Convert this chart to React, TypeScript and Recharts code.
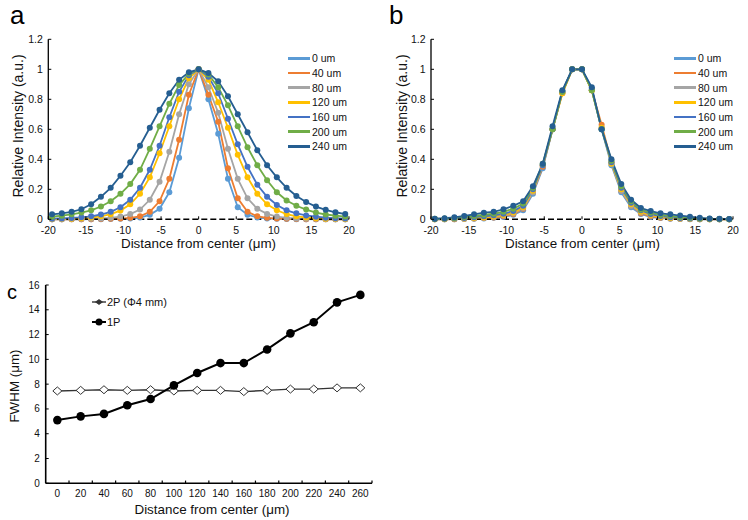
import React from 'react';
import { LineChart, Line, XAxis, YAxis, ReferenceLine } from 'recharts';

const FONT = '"Liberation Sans", Arial, Helvetica, sans-serif';
const TXT = '#111';

// ---------- Panel a / b shared ----------
const xPositions = [-19.5, -18.2, -16.9, -15.6, -14.3, -13, -11.7, -10.4, -9.1, -7.8, -6.5, -5.2, -3.9, -2.6, -1.3, 0,
  1.3, 2.6, 3.9, 5.2, 6.5, 7.8, 9.1, 10.4, 11.7, 13, 14.3, 15.6, 16.9, 18.2, 19.5];
const xTicksAB = [-20, -15, -10, -5, 0, 5, 10, 15, 20];
const yTicksAB = [0, 0.2, 0.4, 0.6, 0.8, 1, 1.2];
const seriesNames = ['0 um', '40 um', '80 um', '120 um', '160 um', '200 um', '240 um'];
const seriesColors = ['#5B9BD5', '#ED7D31', '#A5A5A5', '#FFC000', '#4472C4', '#70AD47', '#255E91'];

// ---------- Panel a values ----------
const a0 = [0, 0, 0, 0, 0.001, 0.001, 0.002, 0.003, 0.005, 0.012, 0.03, 0.07, 0.18, 0.41, 0.74, 1,
  0.8, 0.57, 0.27, 0.08, 0.03, 0.012, 0.006, 0.003, 0.002, 0.001, 0.001, 0, 0, 0, 0];
const a40 = [0, 0, 0, 0.001, 0.001, 0.002, 0.003, 0.005, 0.01, 0.02, 0.05, 0.12, 0.27, 0.53, 0.83, 1,
  0.83, 0.65, 0.34, 0.14, 0.05, 0.02, 0.01, 0.005, 0.003, 0.002, 0.001, 0.001, 0, 0, 0];
const a80 = [0.001, 0.001, 0.002, 0.003, 0.004, 0.006, 0.01, 0.018, 0.035, 0.065, 0.13, 0.25, 0.45, 0.7, 0.9, 1,
  0.88, 0.71, 0.47, 0.27, 0.14, 0.07, 0.036, 0.018, 0.01, 0.006, 0.004, 0.003, 0.002, 0.001, 0.001];
const a120 = [0.002, 0.003, 0.004, 0.007, 0.012, 0.02, 0.034, 0.058, 0.1, 0.17, 0.28, 0.44, 0.62, 0.8, 0.94, 1,
  0.93, 0.78, 0.61, 0.43, 0.28, 0.17, 0.1, 0.06, 0.035, 0.02, 0.012, 0.007, 0.004, 0.003, 0.002];
const a160 = [0.004, 0.006, 0.009, 0.013, 0.02, 0.032, 0.05, 0.08, 0.13, 0.21, 0.33, 0.49, 0.68, 0.85, 0.96, 1,
  0.95, 0.84, 0.67, 0.5, 0.35, 0.23, 0.15, 0.095, 0.06, 0.04, 0.026, 0.017, 0.011, 0.007, 0.005];
const a200 = [0.017, 0.024, 0.033, 0.045, 0.06, 0.085, 0.12, 0.17, 0.235, 0.33, 0.47, 0.62, 0.77, 0.895, 0.97, 1,
  0.965, 0.88, 0.76, 0.62, 0.48, 0.36, 0.26, 0.18, 0.125, 0.09, 0.065, 0.045, 0.032, 0.024, 0.018];
const a240 = [0.033, 0.04, 0.05, 0.067, 0.1, 0.15, 0.21, 0.29, 0.38, 0.49, 0.61, 0.73, 0.84, 0.93, 0.98, 1,
  0.975, 0.92, 0.82, 0.7, 0.58, 0.46, 0.36, 0.28, 0.21, 0.155, 0.115, 0.085, 0.063, 0.047, 0.035];

// ---------- Panel b values ----------
const b0 = [0, 0, 0.001, 0.002, 0.004, 0.006, 0.01, 0.015, 0.03, 0.06, 0.17, 0.34, 0.6, 0.85, 1, 1,
  0.86, 0.6, 0.36, 0.18, 0.08, 0.035, 0.015, 0.008, 0.004, 0.002, 0.001, 0, 0, 0, 0];
const b40 = [0, 0, 0.001, 0.003, 0.005, 0.008, 0.012, 0.02, 0.035, 0.07, 0.18, 0.35, 0.6, 0.84, 1, 1,
  0.86, 0.63, 0.38, 0.19, 0.09, 0.04, 0.02, 0.01, 0.005, 0.003, 0.002, 0.001, 0, 0, 0];
const b80 = [0.001, 0.001, 0.002, 0.004, 0.007, 0.01, 0.015, 0.025, 0.04, 0.075, 0.18, 0.36, 0.6, 0.85, 1, 1,
  0.86, 0.61, 0.37, 0.19, 0.09, 0.045, 0.025, 0.013, 0.007, 0.004, 0.002, 0.001, 0.001, 0, 0];
const b120 = [0.001, 0.002, 0.003, 0.005, 0.008, 0.012, 0.018, 0.028, 0.045, 0.08, 0.19, 0.36, 0.6, 0.84, 1, 1,
  0.86, 0.61, 0.37, 0.2, 0.1, 0.05, 0.028, 0.015, 0.009, 0.005, 0.003, 0.002, 0.001, 0.001, 0];
const b160 = [0.002, 0.003, 0.005, 0.009, 0.014, 0.02, 0.027, 0.037, 0.055, 0.09, 0.2, 0.36, 0.6, 0.85, 1, 1,
  0.87, 0.6, 0.38, 0.21, 0.11, 0.06, 0.035, 0.022, 0.014, 0.009, 0.006, 0.004, 0.002, 0.001, 0.001];
const b200 = [0.003, 0.005, 0.009, 0.015, 0.022, 0.03, 0.037, 0.05, 0.07, 0.105, 0.21, 0.37, 0.6, 0.85, 1, 1,
  0.86, 0.6, 0.39, 0.22, 0.12, 0.065, 0.045, 0.03, 0.022, 0.016, 0.01, 0.006, 0.003, 0.002, 0.001];
const b240 = [0.004, 0.007, 0.013, 0.022, 0.033, 0.044, 0.05, 0.067, 0.09, 0.12, 0.22, 0.37, 0.62, 0.86, 1, 1,
  0.88, 0.6, 0.4, 0.235, 0.13, 0.075, 0.055, 0.04, 0.033, 0.025, 0.017, 0.01, 0.005, 0.003, 0.002];

// ---------- Panel c values ----------
const cDistance = [0, 20, 40, 60, 80, 100, 120, 140, 160, 180, 200, 220, 240, 260];
const c2P = [7.45, 7.5, 7.55, 7.5, 7.55, 7.45, 7.5, 7.5, 7.4, 7.5, 7.6, 7.6, 7.7, 7.7];
const c1P = [5.1, 5.4, 5.6, 6.3, 6.8, 7.9, 8.9, 9.7, 9.7, 10.8, 12.1, 13.0, 14.6, 15.2];
const cXTicks = [0, 20, 40, 60, 80, 100, 120, 140, 160, 180, 200, 220, 240, 260];
const cYTicks = [0, 2, 4, 6, 8, 10, 12, 14, 16];
const cMinorTicks = [10, 30, 50, 70, 90, 110, 130, 150, 170, 190, 210, 230, 250, 270];
const cNames = ['2P (Φ4 mm)', '1P'];

const keys = ['s0', 's40', 's80', 's120', 's160', 's200', 's240'];
const buildRows = (sets: number[][]) =>
  xPositions.map((x, i) => {
    const r: any = { x };
    sets.forEach((s, j) => { r[keys[j]] = s[i]; });
    return r;
  });
const dataA = buildRows([a0, a40, a80, a120, a160, a200, a240]);
const dataB = buildRows([b0, b40, b80, b120, b160, b200, b240]);
const dataC = cDistance.map((d, i) => ({ d, p2: c2P[i], p1: c1P[i] }));

const fmtY = (v: number) => String(Number(v.toFixed(1)));

const InXTick = (props: any) => {
  const { x, y, payload, tm, fs, tl } = props;
  const ay = y - tm;
  return (
    <g>
      {tl ? <line x1={x} x2={x} y1={ay} y2={ay - tl} stroke="#000" strokeWidth={1} /> : null}
      <text x={x} y={y} dy="0.71em" textAnchor="middle" fontSize={fs} fontFamily={FONT} fill={TXT}>
        {payload.value}
      </text>
    </g>
  );
};

const InYTick = (props: any) => {
  const { x, y, payload, tm, fs, tl, dec } = props;
  const ax = x + tm;
  return (
    <g>
      {tl ? <line x1={ax} x2={ax + tl} y1={y} y2={y} stroke="#000" strokeWidth={1} /> : null}
      <text x={x} y={y} dy="0.355em" textAnchor="end" fontSize={fs} fontFamily={FONT} fill={TXT}>
        {dec ? fmtY(payload.value) : payload.value}
      </text>
    </g>
  );
};

const Diamond = (props: any) => {
  const { cx, cy, index } = props;
  if (cx == null || cy == null) return <g key={index} />;
  return (
    <path key={index} d={`M${cx - 4.5},${cy} L${cx},${cy - 4} L${cx + 4.5},${cy} L${cx},${cy + 4} Z`}
      fill="#fff" stroke="#333" strokeWidth={1} />
  );
};

const ProfileChart = ({ data, width, height, leftW, rightM }: any) => (
  <LineChart width={width} height={height} data={data}
    margin={{ top: 39.3, right: rightM, bottom: 10.7, left: 0 }}>
    <XAxis type="number" dataKey="x" domain={[-20, 20]} ticks={xTicksAB} height={30}
      axisLine={{ stroke: '#000', strokeWidth: 1.6, strokeDasharray: '6 3' }}
      tickLine={false} tickSize={0} tickMargin={7.5}
      tick={<InXTick tm={7.5} fs={10.5} tl={3} />} interval={0} />
    <YAxis type="number" domain={[0, 1.2]} ticks={yTicksAB} width={leftW}
      axisLine={{ stroke: '#000', strokeWidth: 1.3 }} tickLine={false} tickSize={0} tickMargin={5.5}
      tick={<InYTick tm={5.5} fs={10.5} tl={3} dec />} interval={0} />
    {keys.map((k, i) => (
      <Line key={k} type="linear" dataKey={k} stroke={seriesColors[i]} strokeWidth={1.8}
        dot={{ r: 3, fill: seriesColors[i], strokeWidth: 0 }} isAnimationActive={false} />
    ))}
  </LineChart>
);

const legendRowsY = [58.3, 72.9, 87.6, 102.3, 117, 131.7, 146.4];

const ProfileLegend = ({ left }: { left: number }) => (
  <div style={{ position: 'absolute', left, top: 0 }}>
    {seriesNames.map((n, i) => (
      <div key={n} style={{ position: 'absolute', left: 0, top: legendRowsY[i] - 7, height: 14,
        display: 'flex', alignItems: 'center', whiteSpace: 'nowrap' }}>
        <div style={{ width: 22, height: 2.5, background: seriesColors[i] }} />
        <span style={{ marginLeft: 2, fontSize: 10.5, fontFamily: FONT, color: TXT }}>{n}</span>
      </div>
    ))}
  </div>
);

const Title = ({ x, y, text, size, rotate }: any) => (
  <div style={{ position: 'absolute', left: x, top: y, transform: `translate(-50%, -50%)${rotate ? ' rotate(-90deg)' : ''}`,
    fontSize: size, fontFamily: FONT, color: TXT, whiteSpace: 'nowrap', lineHeight: 1 }}>{text}</div>
);

const PanelLetter = ({ x, y, text, size }: any) => (
  <div style={{ position: 'absolute', left: x, top: y, fontSize: size, fontFamily: FONT, color: '#000', lineHeight: `${size}px` }}>{text}</div>
);

export default function App() {
  return (
    <div style={{ position: 'absolute', left: 0, top: 0, width: 748, height: 520, background: '#fff', overflow: 'hidden' }}>
      {/* Panel a */}
      <div style={{ position: 'absolute', left: 0, top: 0 }}>
        <ProfileChart data={dataA} width={370} height={260} leftW={48.3} rightM={21} />
      </div>
      <ProfileLegend left={288} />
      <Title x={17.5} y={126} text="Relative Intensity (a.u.)" size={14} rotate />
      <Title x={198.5} y={244} text="Distance from center (μm)" size={13.4} />
      <PanelLetter x={10} y={2} text="a" size={26} />

      {/* Panel b */}
      <div style={{ position: 'absolute', left: 370, top: 0 }}>
        <ProfileChart data={dataB} width={378} height={260} leftW={61} rightM={15} />
      </div>
      <ProfileLegend left={674} />
      <Title x={401.7} y={126} text="Relative Intensity (a.u.)" size={14} rotate />
      <Title x={582.5} y={244} text="Distance from center (μm)" size={13.4} />
      <PanelLetter x={389} y={2} text="b" size={26} />

      {/* Panel c */}
      <div style={{ position: 'absolute', left: 0, top: 270 }}>
        <LineChart width={400} height={250} data={dataC} margin={{ top: 15, right: 28, bottom: 10.7, left: 0 }}>
          <XAxis type="number" dataKey="d" domain={[-10, 270]} ticks={cXTicks} height={26}
            axisLine={{ stroke: '#000', strokeWidth: 1.6 }} tickLine={false} tickSize={0} tickMargin={7}
            tick={<InXTick tm={7} fs={10} tl={0} />} interval={0} />
          <YAxis type="number" domain={[0, 16]} ticks={cYTicks} width={45.7}
            axisLine={{ stroke: '#000', strokeWidth: 1.6 }} tickLine={false} tickSize={0} tickMargin={6}
            tick={<InYTick tm={6} fs={10} tl={3} />} interval={0} />
          {cMinorTicks.map((t) => (
            <ReferenceLine key={t} segment={[{ x: t, y: 0 }, { x: t, y: 0.22 }]} stroke="#000" strokeWidth={1.2} ifOverflow="visible" />
          ))}
          <Line type="linear" dataKey="p2" name={cNames[0]} stroke="#333" strokeWidth={1.4}
            dot={<Diamond />} isAnimationActive={false} />
          <Line type="linear" dataKey="p1" name={cNames[1]} stroke="#000" strokeWidth={2}
            dot={{ r: 4.3, fill: '#000', strokeWidth: 0 }} isAnimationActive={false} />
        </LineChart>
      </div>
      {/* Legend c */}
      <div style={{ position: 'absolute', left: 92, top: 294.7, height: 14, display: 'flex', alignItems: 'center', whiteSpace: 'nowrap' }}>
        <svg width={14} height={10}>
          <line x1={0} x2={14} y1={5} y2={5} stroke="#333" strokeWidth={1.4} />
          <path d="M3.5,5 L7,2.5 L10.5,5 L7,7.5 Z" fill="#333" stroke="#333" strokeWidth={0.8} />
        </svg>
        <span style={{ marginLeft: 1, fontSize: 11, fontFamily: FONT, color: TXT }}>{cNames[0]}</span>
      </div>
      <div style={{ position: 'absolute', left: 92, top: 314.7, height: 14, display: 'flex', alignItems: 'center', whiteSpace: 'nowrap' }}>
        <svg width={14} height={10}>
          <line x1={0} x2={14} y1={5} y2={5} stroke="#000" strokeWidth={2} />
          <circle cx={7} cy={5} r={3.5} fill="#000" />
        </svg>
        <span style={{ marginLeft: 1, fontSize: 11, fontFamily: FONT, color: TXT }}>{cNames[1]}</span>
      </div>
      <Title x={15} y={386} text="FWHM (μm)" size={13.4} rotate />
      <Title x={212} y={510} text="Distance from center (μm)" size={13.4} />
      <PanelLetter x={7} y={282} text="c" size={20} />
    </div>
  );
}
